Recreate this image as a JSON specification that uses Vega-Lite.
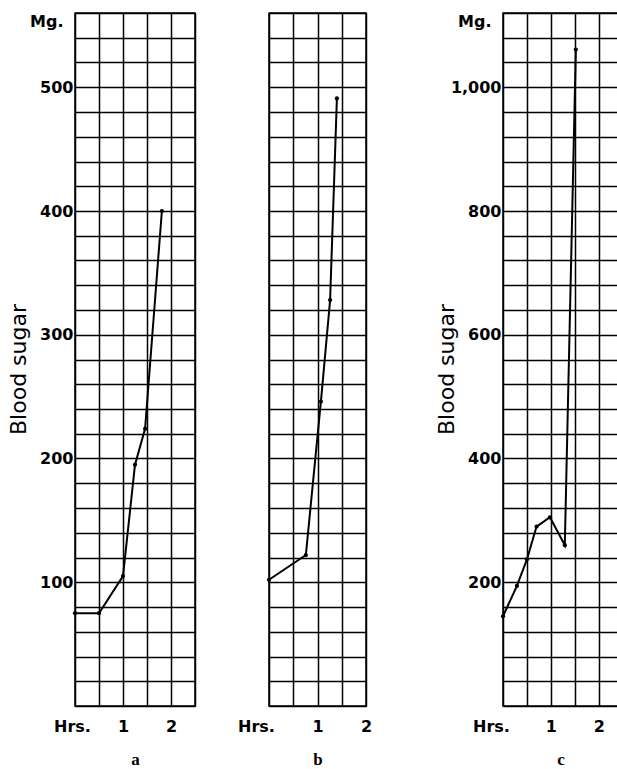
{
  "$schema": "https://vega.github.io/schema/vega-lite/v6.json",
  "padding": {"left": 6, "top": 12, "right": 0, "bottom": 0},
  "background": "white",
  "config": {
    "view": {"stroke": "black", "strokeWidth": 1.5},
    "axis": {
      "domain": false,
      "ticks": false,
      "grid": true,
      "gridColor": "black",
      "gridOpacity": 1,
      "gridWidth": 1.5,
      "labelFont": "DejaVu Sans",
      "labelFontSize": 16,
      "labelFontWeight": "bold",
      "labelColor": "black",
      "labelFlush": false,
      "labelOverlap": false,
      "titleColor": "black"
    }
  },
  "datasets": {
    "a": [
      {"hrs": 0, "mg": 75},
      {"hrs": 0.5, "mg": 75},
      {"hrs": 1.0, "mg": 105},
      {"hrs": 1.25, "mg": 195},
      {"hrs": 1.46, "mg": 224},
      {"hrs": 1.81, "mg": 400}
    ],
    "b": [
      {"hrs": 0, "mg": 102},
      {"hrs": 0.76, "mg": 122},
      {"hrs": 1.07, "mg": 246},
      {"hrs": 1.26, "mg": 328},
      {"hrs": 1.4, "mg": 491}
    ],
    "c": [
      {"hrs": 0, "mg": 145},
      {"hrs": 0.29, "mg": 194},
      {"hrs": 0.5, "mg": 237},
      {"hrs": 0.7, "mg": 290},
      {"hrs": 0.98, "mg": 305},
      {"hrs": 1.29, "mg": 260},
      {"hrs": 1.52, "mg": 1061}
    ]
  },
  "hconcat": [
    {
      "hconcat": [
        {
          "width": 120,
          "height": 693,
          "data": {"name": "a"},
          "encoding": {
            "x": {
              "field": "hrs", "type": "quantitative",
              "scale": {"domain": [0, 2.5], "nice": false, "zero": false},
              "axis": {
                "values": [0, 0.5, 1, 1.5, 2, 2.5],
                "labelExpr": "datum.value == 0 ? 'Hrs.' : datum.value == 1 ? '1' : datum.value == 2 ? '2' : ''",
                "labelPadding": 12,
                "labelOffset": {"condition": {"test": "datum.value == 0", "value": -3}, "value": 0},
                "title": "a",
                "titleFont": "Liberation Serif",
                "titleFontWeight": "bold",
                "titleFontSize": 17,
                "titlePadding": 17
              }
            },
            "y": {
              "field": "mg", "type": "quantitative",
              "scale": {"domain": [0, 560], "nice": false},
              "axis": {
                "values": [0, 20, 40, 60, 80, 100, 120, 140, 160, 180, 200, 220, 240, 260, 280, 300, 320, 340, 360, 380, 400, 420, 440, 460, 480, 500, 520, 540, 560],
                "format": ",d",
                "labelExpr": "datum.value == 560 ? 'Mg.' : (datum.value % 100 == 0 && datum.value > 0 ? datum.label : '')",
                "labelPadding": {"condition": {"test": "datum.value == 560", "value": 12}, "value": 2},
                "labelBaseline": {"condition": {"test": "datum.value == 560", "value": "top"}, "value": "middle"},
                "title": "Blood sugar",
                "titleFont": "DejaVu Sans",
                "titleFontSize": 22,
                "titleFontWeight": "normal",
                "titlePadding": -1,
                "titleY": 356
              }
            }
          },
          "layer": [
            {"mark": {"type": "line", "color": "black", "strokeWidth": 2}},
            {"mark": {"type": "circle", "color": "black", "size": 18, "opacity": 1}}
          ]
        },
        {
          "width": 97,
          "height": 693,
          "data": {"name": "b"},
          "encoding": {
            "x": {
              "field": "hrs", "type": "quantitative",
              "scale": {"domain": [0, 2], "nice": false, "zero": false},
              "axis": {
                "values": [0, 0.5, 1, 1.5, 2],
                "labelExpr": "datum.value == 0 ? 'Hrs.' : datum.value == 1 ? '1' : datum.value == 2 ? '2' : ''",
                "labelPadding": 12,
                "labelOffset": {"condition": {"test": "datum.value == 0", "value": -13}, "value": 0},
                "title": "b",
                "titleFont": "Liberation Serif",
                "titleFontWeight": "bold",
                "titleFontSize": 17,
                "titlePadding": 17
              }
            },
            "y": {
              "field": "mg", "type": "quantitative",
              "scale": {"domain": [0, 560], "nice": false},
              "axis": {
                "values": [0, 20, 40, 60, 80, 100, 120, 140, 160, 180, 200, 220, 240, 260, 280, 300, 320, 340, 360, 380, 400, 420, 440, 460, 480, 500, 520, 540, 560],
                "labels": false,
                "title": null
              }
            }
          },
          "layer": [
            {"mark": {"type": "line", "color": "black", "strokeWidth": 2}},
            {"mark": {"type": "circle", "color": "black", "size": 18, "opacity": 1}}
          ]
        }
      ],
      "spacing": 40
    },
    {
      "width": 115,
      "height": 693,
      "data": {"name": "c"},
      "encoding": {
        "x": {
          "field": "hrs", "type": "quantitative",
          "scale": {"domain": [0, 2.4], "nice": false, "zero": false},
          "axis": {
            "values": [0, 0.5, 1, 1.5, 2],
            "labelExpr": "datum.value == 0 ? 'Hrs.' : datum.value == 1 ? '1' : datum.value == 2 ? '2' : ''",
            "labelPadding": 12,
            "labelOffset": {"condition": {"test": "datum.value == 0", "value": -12}, "value": 0},
            "title": "c",
            "titleFont": "Liberation Serif",
            "titleFontWeight": "bold",
            "titleFontSize": 17,
            "titlePadding": 17
          }
        },
        "y": {
          "field": "mg", "type": "quantitative",
          "scale": {"domain": [0, 1120], "nice": false},
          "axis": {
            "values": [0, 40, 80, 120, 160, 200, 240, 280, 320, 360, 400, 440, 480, 520, 560, 600, 640, 680, 720, 760, 800, 840, 880, 920, 960, 1000, 1040, 1080, 1120],
            "format": ",d",
            "labelExpr": "datum.value == 1120 ? 'Mg.' : (datum.value % 200 == 0 && datum.value > 0 ? datum.label : '')",
            "labelPadding": {"condition": {"test": "datum.value == 1120", "value": 12}, "value": 2},
            "labelBaseline": {"condition": {"test": "datum.value == 1120", "value": "top"}, "value": "middle"},
            "title": "Blood sugar",
            "titleFont": "DejaVu Sans",
            "titleFontSize": 22,
            "titleFontWeight": "normal",
            "titlePadding": -8,
            "titleY": 356
          }
        }
      },
      "layer": [
        {"mark": {"type": "line", "color": "black", "strokeWidth": 2}},
        {"mark": {"type": "circle", "color": "black", "size": 18, "opacity": 1}}
      ]
    }
  ],
  "spacing": 61
}
